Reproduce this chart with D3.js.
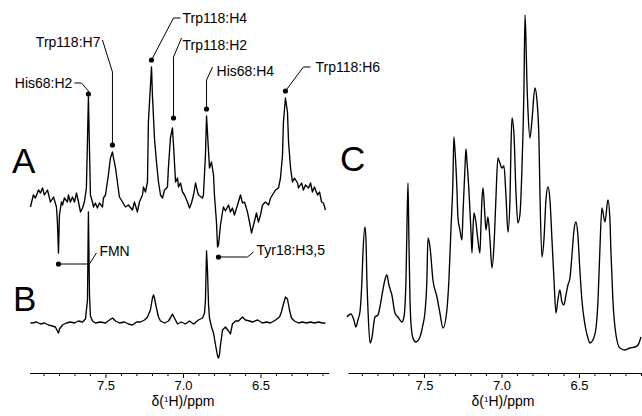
<!DOCTYPE html>
<html><head><meta charset="utf-8">
<script src="https://cdn.jsdelivr.net/npm/d3@7"></script>
<style>
body{margin:0;background:#fff;}
svg{display:block;font-family:"Liberation Sans",Arial,sans-serif;}
</style></head>
<body>
<svg id="chart" width="642" height="416"></svg>
<script>
// ---------- DATA ----------
// Spectrum A (difference spectrum, top left)
const ppmA = [7.984,7.965,7.952,7.932,7.919,7.906,7.894,7.874,7.855,7.835,7.816,7.810,7.803,7.797,7.784,7.777,7.765,7.745,7.739,7.726,7.713,7.700,7.687,7.674,7.661,7.648,7.636,7.623,7.616,7.610,7.603,7.597,7.584,7.577,7.565,7.552,7.539,7.519,7.513,7.500,7.481,7.468,7.455,7.448,7.435,7.423,7.410,7.390,7.371,7.352,7.326,7.313,7.294,7.281,7.261,7.255,7.242,7.229,7.223,7.203,7.197,7.184,7.171,7.158,7.145,7.132,7.119,7.100,7.094,7.081,7.068,7.061,7.048,7.035,7.029,7.016,7.003,6.990,6.971,6.958,6.945,6.932,6.919,6.906,6.900,6.874,6.868,6.855,6.848,6.835,6.829,6.816,6.803,6.797,6.784,6.777,6.771,6.758,6.745,6.739,6.726,6.706,6.694,6.681,6.668,6.648,6.629,6.616,6.603,6.584,6.571,6.558,6.545,6.526,6.513,6.500,6.487,6.468,6.448,6.435,6.423,6.403,6.384,6.371,6.358,6.352,6.339,6.326,6.319,6.306,6.294,6.281,6.261,6.255,6.235,6.223,6.210,6.190,6.177,6.165,6.152,6.132,6.119,6.106,6.094,6.081];
const intA = [-2,10,7,15,12,17,10,15,3,8,-2,-17,-48,-10,3,0,7,3,10,3,8,3,12,3,-7,-3,3,17,65,108,55,10,3,-2,2,-3,2,-2,7,10,30,47,53,47,37,23,8,3,-2,0,-5,3,-7,3,10,18,13,23,83,138,110,67,43,23,10,7,15,18,37,67,77,60,23,27,18,22,13,10,3,-3,2,10,22,13,10,7,10,50,89,53,37,43,30,10,-17,-42,-40,-20,-7,-2,-6,0,-7,-3,-10,0,10,2,3,-7,-17,-28,-20,-8,-17,-10,0,3,0,7,10,15,17,27,50,83,107,93,63,37,23,27,22,17,22,15,20,17,22,13,18,10,13,3,2,-5];

// Spectrum B (bottom left)
const ppmB = [7.984,7.971,7.945,7.919,7.894,7.868,7.842,7.823,7.810,7.803,7.797,7.777,7.752,7.726,7.700,7.674,7.648,7.629,7.616,7.610,7.603,7.597,7.584,7.565,7.532,7.500,7.474,7.455,7.435,7.410,7.377,7.352,7.326,7.300,7.274,7.248,7.229,7.210,7.197,7.190,7.184,7.171,7.158,7.145,7.119,7.094,7.081,7.068,7.055,7.035,7.010,6.984,6.958,6.932,6.900,6.874,6.861,6.855,6.848,6.842,6.835,6.829,6.816,6.803,6.790,6.777,6.771,6.765,6.758,6.745,6.726,6.706,6.694,6.681,6.661,6.642,6.616,6.597,6.571,6.552,6.519,6.487,6.461,6.435,6.403,6.377,6.365,6.352,6.339,6.326,6.313,6.300,6.281,6.255,6.229,6.203,6.177,6.152,6.126,6.100,6.081];
const intB = [0,0,1,-1,0,-2,-3,-4,-8,-10,-6,-2,0,1,0,2,1,4,23,111,28,7,2,0,1,0,3,5,2,0,1,-1,-2,1,1,3,6,13,25,28,25,15,6,2,0,2,5,9,5,-1,1,-1,2,-1,3,5,10,23,72,53,18,5,-4,-10,-22,-33,-35,-32,-22,-7,-4,-8,-11,-1,2,2,6,3,2,1,3,0,1,0,3,6,11,19,26,24,13,5,2,0,1,0,1,0,1,0,0];

// Spectrum C (reference 1D spectrum, right)
const ppmC = [7.997,7.971,7.952,7.939,7.926,7.913,7.900,7.894,7.881,7.874,7.868,7.861,7.848,7.836,7.816,7.797,7.784,7.765,7.752,7.739,7.726,7.707,7.687,7.668,7.642,7.629,7.616,7.610,7.603,7.597,7.590,7.584,7.571,7.552,7.526,7.507,7.494,7.481,7.474,7.461,7.442,7.416,7.397,7.377,7.352,7.339,7.326,7.313,7.307,7.300,7.287,7.281,7.268,7.255,7.248,7.236,7.229,7.223,7.210,7.197,7.190,7.184,7.177,7.165,7.152,7.139,7.132,7.126,7.119,7.107,7.100,7.087,7.074,7.061,7.048,7.036,7.023,7.010,6.997,6.984,6.971,6.958,6.945,6.939,6.932,6.919,6.907,6.894,6.881,6.868,6.855,6.848,6.842,6.836,6.829,6.816,6.803,6.784,6.771,6.758,6.752,6.739,6.726,6.713,6.700,6.687,6.674,6.661,6.648,6.636,6.623,6.610,6.597,6.584,6.571,6.558,6.545,6.532,6.519,6.507,6.494,6.481,6.461,6.442,6.429,6.410,6.390,6.377,6.365,6.352,6.332,6.313,6.300,6.294,6.281,6.261,6.236,6.203,6.171,6.139,6.119,6.100];
const intC = [33,36,30,23,30,38,70,95,123,110,70,40,7,12,33,35,43,60,70,75,65,55,37,33,28,33,70,120,167,110,50,27,12,8,13,25,37,70,112,103,70,53,37,22,40,70,120,170,213,200,160,133,120,110,137,180,201,190,160,120,97,120,137,128,110,97,125,150,162,135,120,133,110,82,105,150,192,187,182,184,155,118,150,200,232,215,160,127,135,180,260,335,310,270,240,212,230,262,250,210,160,93,110,150,163,150,110,70,37,50,60,48,45,55,65,72,95,120,128,115,80,50,25,12,7,10,22,50,100,142,128,150,130,100,50,15,2,0,2,3,5,13];

// Axis ticks
const majorTicks = [7.5, 7.0, 6.5];
const tickLabels = ["7.5", "7.0", "6.5"];
const minorTicks = [7.9,7.8,7.7,7.6,7.4,7.3,7.2,7.1,6.9,6.8,6.7,6.6,6.4,6.3,6.2,6.1];

// Peak assignments: label, ppm, marker level (intensity units of spectrum A)
const peakLabels = ["His68:H2","Trp118:H7","Trp118:H4","Trp118:H2","His68:H4","Trp118:H6","FMN","Tyr18:H3,5"];
const peakPpm    = [7.610, 7.455, 7.203, 7.061, 6.848, 6.339, 7.803, 6.771];
const peakLevel  = [111, 60, 145, 87, 96, 114, -59, -52];

// ---------- DRAW ----------
const svg = d3.select("#chart");
const xL = d3.scaleLinear().domain([7.99, 6.06]).range([29.5, 328.7]);
const xR = d3.scaleLinear().domain([7.99, 6.09]).range([348, 642.5]);
const yA = d3.scaleLinear().domain([0, 100]).range([205, 105]);
const yB = d3.scaleLinear().domain([0, 100]).range([323, 223]);
const yC = d3.scaleLinear().domain([0, 100]).range([350, 250]);

function drawLine(ppm, ints, x, y, curve) {
  const pts = ppm.map((p, i) => [p, ints[i]]);
  svg.append("path")
    .datum(pts)
    .attr("fill", "none")
    .attr("stroke", "#000")
    .attr("stroke-width", 1.35)
    .attr("stroke-linejoin", "round")
    .attr("d", d3.line().curve(curve).x(d => x(d[0])).y(d => y(d[1])));
}
drawLine(ppmA, intA, xL, yA, d3.curveLinear);
drawLine(ppmB, intB, xL, yB, d3.curveLinear);
drawLine(ppmC, intC, xR, yC, d3.curveMonotoneX);

function drawAxis(x, cx) {
  const g = svg.append("g").attr("transform", "translate(0,373)");
  g.call(d3.axisBottom(x).tickValues(minorTicks).tickSize(3).tickSizeOuter(0).tickFormat(""));
  const g2 = svg.append("g").attr("transform", "translate(0,373)");
  g2.call(d3.axisBottom(x).tickValues(majorTicks).tickSize(5).tickSizeOuter(0)
      .tickFormat((d, i) => tickLabels[i]).tickPadding(3));
  g2.select(".domain").remove();
  [g, g2].forEach(gg => {
    gg.selectAll("line").attr("stroke", "#000").attr("stroke-width", 1);
    gg.selectAll(".domain").attr("stroke", "#000").attr("stroke-width", 1.2);
    gg.selectAll("text").attr("fill", "#000").style("font-size", "13px")
      .style("font-family", "'Liberation Sans', Arial, sans-serif");
  });
  const t = svg.append("text").attr("x", cx).attr("y", 406).attr("text-anchor", "middle")
    .style("font-size", "14px");
  t.append("tspan").text("δ(");
  t.append("tspan").text("1").style("font-size", "8px").attr("dy", -4);
  t.append("tspan").text("H)/ppm").attr("dy", 4);
}
drawAxis(xL, 183);
drawAxis(xR, 503);

// Panel letters
[["A", 12, 173], ["B", 13, 311], ["C", 340, 171]].forEach(([s, px, py]) => {
  svg.append("text").attr("x", px).attr("y", py).text(s).style("font-size", "35px");
});

// Annotations (leader geometry relative to the marker)
const ann = svg.append("g");
const lineGen = d3.line();
function leader(i, rel, tx, ty, anchor) {
  const cx = xL(peakPpm[i]), cy = yA(peakLevel[i]);
  ann.append("circle").attr("cx", cx).attr("cy", cy).attr("r", 2.6).attr("fill", "#000");
  const pts = [[cx, cy]].concat(rel.map(r => [cx + r[0], cy + r[1]]));
  ann.append("path").attr("d", lineGen(pts)).attr("fill", "none").attr("stroke", "#000").attr("stroke-width", 1);
  ann.append("text").attr("x", cx + tx).attr("y", cy + ty).attr("text-anchor", anchor)
    .text(peakLabels[i]).style("font-size", "14px");
}
const dFMN = xL(7.610) - xL(7.803);
leader(0, [[0,-3],[-7,-11],[-14,-11]], -16, -6, "end");
leader(1, [[0,-73],[-10,-105]], -12, -98, "end");
leader(2, [[22,-42],[29,-42]], 31, -37, "start");
leader(3, [[0,-61],[8,-80]], 9, -68, "start");
leader(4, [[0,-29],[6,-42]], 10, -33, "start");
leader(5, [[18,-24],[25,-24]], 30, -19, "start");
leader(6, [[dFMN + 1,0],[dFMN + 8,-11]], dFMN + 11, -8, "start");
leader(7, [[29,0],[35,-5]], 38, -2, "start");
</script>
</body></html>
